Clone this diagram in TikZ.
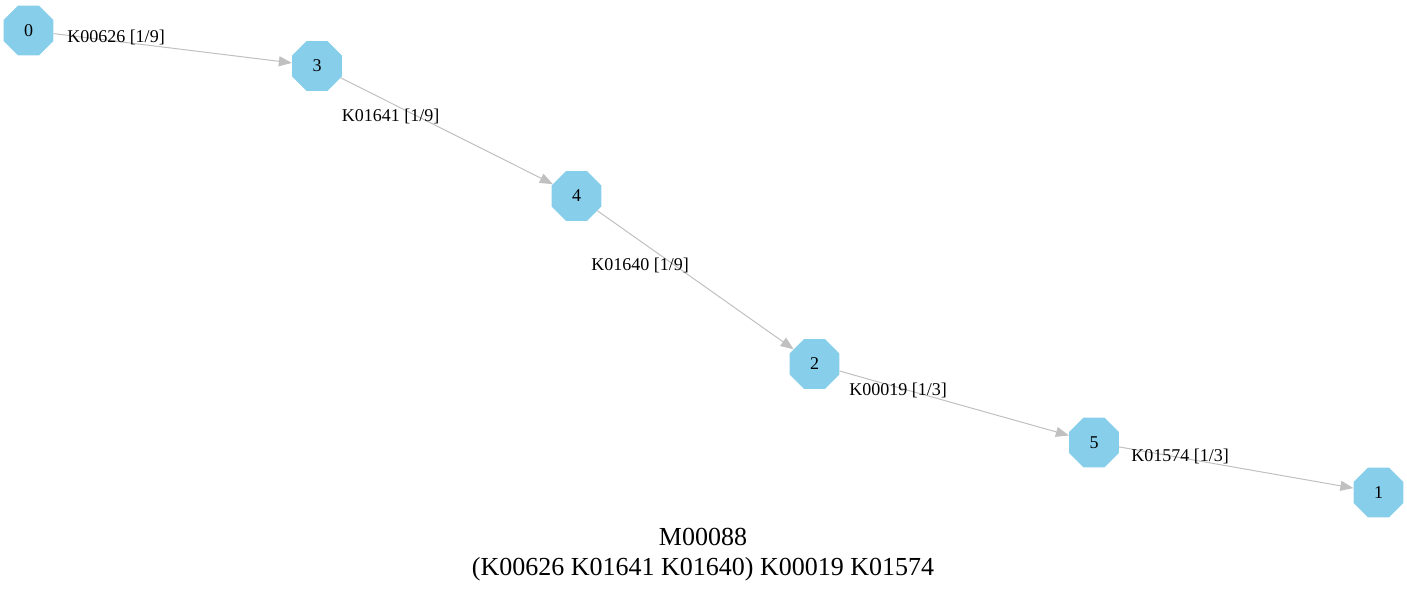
\documentclass[tikz,border=0pt]{standalone}
\usepackage{fontspec}
\setmainfont{Liberation Serif}
\usepackage{xcolor}
\usetikzlibrary{shapes.geometric, arrows.meta}

\definecolor{skyblue}{HTML}{87CEEB}
\definecolor{edgegray}{HTML}{C0C0C0}

\begin{document}
\begin{tikzpicture}[
    x=1pt, y=-1pt,
    state/.style={regular polygon, regular polygon sides=8, minimum size=54pt, inner sep=0pt, fill=skyblue, font=\fontsize{18}{20}\selectfont},
    lbl/.style={font=\fontsize{18}{20}\selectfont, inner sep=0pt},
    arr/.style={-{Triangle[length=13pt, width=10pt]}, draw=edgegray, line width=1pt}
]
\useasboundingbox (0,0) rectangle (1407,593);

\node[state] (n0) at (28.5,30.5) {0};
\node[state] (n3) at (317,66) {3};
\node[state] (n4) at (576.5,196) {4};
\node[state] (n2) at (814.5,364) {2};
\node[state] (n5) at (1094,442.5) {5};
\node[state] (n1) at (1378.5,492.5) {1};

\draw[arr] (n0) -- (n3);
\draw[arr] (n3) -- (n4);
\draw[arr] (n4) -- (n2);
\draw[arr] (n2) -- (n5);
\draw[arr] (n5) -- (n1);

\node[lbl] (l03) at (116,37) {K00626 [1/9]};
\node[lbl] (l34) at (390.5,116) {K01641 [1/9]};
\node[lbl] (l42) at (640,265) {K01640 [1/9]};
\node[lbl] (l25) at (898,390) {K00019 [1/3]};
\node[lbl] (l51) at (1180,456) {K01574 [1/3]};

\node[font=\fontsize{26}{30}\selectfont, align=center] (title) at (703,555) {M00088\\(K00626 K01641 K01640) K00019 K01574};
\end{tikzpicture}
\end{document}
